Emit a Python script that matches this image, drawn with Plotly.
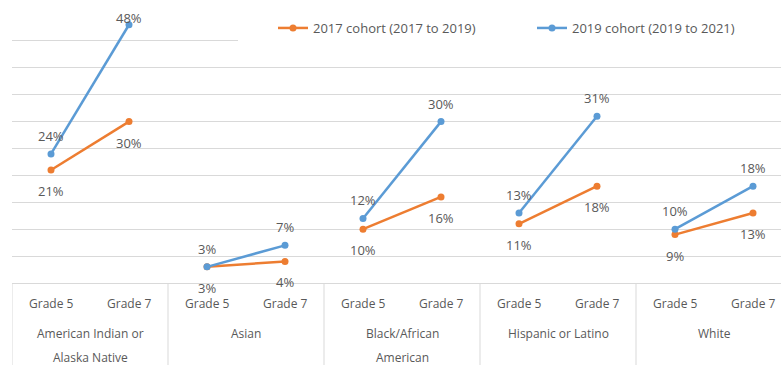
import plotly.graph_objects as go

# ---- data ----
groups = ["American Indian or<br>Alaska Native", "Asian", "Black/African<br>American",
          "Hispanic or Latino", "White"]
grades = ["Grade 5", "Grade 7"]
series_names = ["2017 cohort (2017 to 2019)", "2019 cohort (2019 to 2021)"]
cohort_2017 = [[21, 30], [3, 4], [10, 16], [11, 18], [9, 13]]
cohort_2019 = [[24, 48], [3, 7], [12, 30], [13, 31], [10, 18]]
colors = ["#ED7D31", "#5B9BD5"]

# ---- layout geometry ----
W, H = 781, 365
ML, MR, MT, MB = 12, 0, 14, 82
plot_w = W - ML - MR
plot_h = H - MT - MB
slot_px = 78.0
ymax = 50
px_per_unit = plot_h / ymax
xr = [-0.5, -0.5 + plot_w / slot_px]

txt_col = "#595959"
grid_col = "#d9d9d9"
FONT = "Open Sans"
legend_ids = ["legend", "legend2"]
legend_left_px = [273, 532]

fig = go.Figure()
annotations = []

for s, (name, data, col) in enumerate(zip(series_names, [cohort_2017, cohort_2019], colors)):
    xs, ys = [], []
    for g, vals in enumerate(data):
        for k, v in enumerate(vals):
            xs.append(2 * g + k)
            ys.append(v)
            if s == 1:
                shift = min(18, (ymax - v) * px_per_unit - 4)
            else:
                shift = -21
            annotations.append(dict(x=2 * g + k, y=v, xref="x", yref="y", text=f"{v}%",
                                    showarrow=False, yshift=shift,
                                    font=dict(family=FONT, size=13, color=txt_col)))
        xs.append(None)
        ys.append(None)
    fig.add_trace(go.Scatter(x=xs, y=ys, mode="lines+markers", name=name,
                             connectgaps=False, legend=legend_ids[s],
                             line=dict(color=col, width=2.5),
                             marker=dict(color=col, size=7)))

# axis category labels
for g, grp in enumerate(groups):
    for k, gr in enumerate(grades):
        annotations.append(dict(x=2 * g + k, y=0, xref="x", yref="paper", text=gr,
                                showarrow=False, yanchor="middle", yshift=-20,
                                font=dict(family=FONT, size=12, color=txt_col)))
    for li, line in enumerate(grp.split("<br>")):
        annotations.append(dict(x=2 * g + 0.5, y=0, xref="x", yref="paper", text=line,
                                showarrow=False, yanchor="middle", yshift=-50 - 24 * li,
                                font=dict(family=FONT, size=12, color=txt_col)))

shapes = []
for g in range(len(groups)):
    shapes.append(dict(type="line", xref="x", yref="paper", x0=2 * g - 0.5, x1=2 * g - 0.5,
                       y0=0, y1=-MB / plot_h, line=dict(color=grid_col, width=1)))
# white legend backdrop hiding the top gridlines
shapes.append(dict(type="rect", xref="paper", yref="paper", layer="above",
                   x0=(238 - ML) / plot_w, x1=1.0, y0=(plot_h - 41) / plot_h, y1=(plot_h + MT) / plot_h,
                   fillcolor="white", line=dict(width=0)))

def legend_cfg(px):
    return dict(orientation="h", x=(px - ML) / plot_w, xanchor="left",
                y=(plot_h + MT - 28) / plot_h, yanchor="middle",
                font=dict(family=FONT, size=13, color=txt_col),
                bgcolor="rgba(0,0,0,0)", itemclick=False)

fig.update_layout(
    width=W, height=H,
    margin=dict(l=ML, r=MR, t=MT, b=MB, autoexpand=False),
    paper_bgcolor="white", plot_bgcolor="white",
    showlegend=True,
    legend=legend_cfg(legend_left_px[0]),
    legend2=legend_cfg(legend_left_px[1]),
    xaxis=dict(range=xr, showgrid=False, zeroline=False, showticklabels=False,
               showline=True, linecolor=grid_col, linewidth=1, ticks=""),
    yaxis=dict(range=[0, ymax], dtick=5, showgrid=True, gridcolor=grid_col, gridwidth=1,
               zeroline=False, showticklabels=False, showline=False, ticks=""),
    annotations=annotations,
    shapes=shapes,
    font=dict(family=FONT, color=txt_col),
)

fig.write_html("out.html")
